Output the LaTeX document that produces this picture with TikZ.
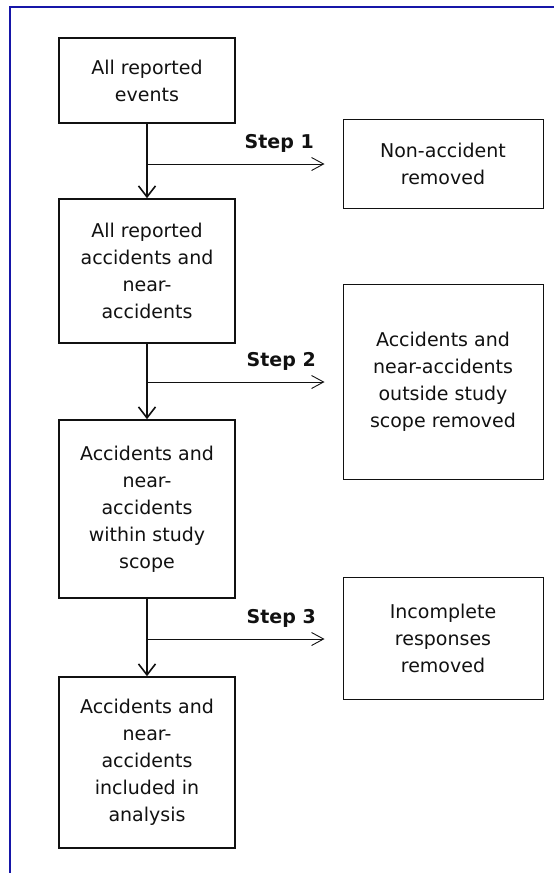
\documentclass[tikz,border=0pt]{standalone}
\usepackage{fontspec}
\setmainfont{DejaVu Sans}
\usetikzlibrary{arrows.meta}
\definecolor{framecol}{RGB}{22,22,168}
\definecolor{inkcol}{RGB}{17,17,17}
\begin{document}
\begin{tikzpicture}[x=1pt,y=-1pt,
  txt/.style={font=\fontsize{19}{27}\selectfont, text=inkcol, align=center},
  mainbox/.style={txt, draw=inkcol, line width=1.6pt, rectangle, inner sep=0pt, minimum width=176pt},
  sidebox/.style={txt, draw=inkcol, line width=1pt, rectangle, inner sep=0pt, minimum width=200pt},
  flowarrow/.style={draw=inkcol, line width=1.6pt, -{Straight Barb[length=11pt,width=17pt,line width=1.6pt]}},
  steparrow/.style={draw=inkcol, line width=0.9pt, shorten >=18pt, -{Straight Barb[length=12pt,width=13pt,line width=0.9pt]}},
  steplabel/.style={font=\bfseries\fontsize{19}{23}\selectfont, text=inkcol, anchor=base east, inner sep=0pt}
]
\useasboundingbox (0,0) rectangle (554,873);
% frame (top and left edges)
\draw[framecol, line width=2.3pt] (10,873) -- (10,7) -- (554,7);

% main column
\node[mainbox, minimum height=85pt]  (b1) at (147,80.5) {All reported\\events};
\node[mainbox, minimum height=144pt] (b2) at (147,271) {All reported\\accidents and\\near-\\accidents};
\node[mainbox, minimum height=178pt] (b3) at (147,509) {Accidents and\\near-\\accidents\\within study\\scope};
\node[mainbox, minimum height=171pt] (b4) at (147,762.5) {Accidents and\\near-\\accidents\\included in\\analysis};

% side boxes
\node[sidebox, minimum height=89pt]  (r1) at (443,163.5) {Non-accident\\removed};
\node[sidebox, minimum height=195pt] (r2) at (443,381.5) {Accidents and\\near-accidents\\outside study\\scope removed};
\node[sidebox, minimum height=122pt] (r3) at (443,638) {Incomplete\\responses\\removed};

% vertical flow
\draw[flowarrow] (b1.south) -- (b2.north);
\draw[flowarrow] (b2.south) -- (b3.north);
\draw[flowarrow] (b3.south) -- (b4.north);

% step branches
\coordinate (s1) at (147,164);
\coordinate (s2) at (147,382);
\coordinate (s3) at (147,639);
\draw[steparrow] (s1) -- (s1 -| r1.west);
\draw[steparrow] (s2) -- (s2 -| r2.west);
\draw[steparrow] (s3) -- (s3 -| r3.west);

\node[steplabel] (l1) at (314,148) {Step 1};
\node[steplabel] (l2) at (316,366) {Step 2};
\node[steplabel] (l3) at (316,623) {Step 3};
\end{tikzpicture}
\end{document}
